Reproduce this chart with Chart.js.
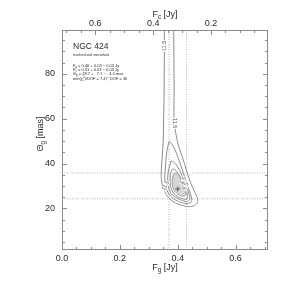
<!DOCTYPE html>
<html>
<head>
<meta charset="utf-8">
<script src="https://cdn.jsdelivr.net/npm/chart.js@4.4.1/dist/chart.umd.min.js"></script>
<style>
  html, body { margin: 0; padding: 0; background: #fff; }
  canvas { display: block; }
</style>
</head>
<body>
<canvas id="chart" width="299" height="294"></canvas>
<script>
// values
const bottomTicks = [0.0, 0.2, 0.4, 0.6]
const topTicks = [0.6, 0.4, 0.2]
const leftTicks = [20, 40, 60, 80]

const xMax = 0.712   // F_g axis end
const fTotal = 0.715 // F_c = fTotal - F_g
const yMin = 1.5
const yMax = 99.5

const bestFit = [[0.40, 28.7]]
const fgBounds = [0.37, 0.43]
const thetaBounds = [24.3, 35.8]

// chi2 contours [F_g, Theta_g], outermost (11.5) is open at the top
const level1 = [[0.386, 101], [0.3875, 72.8], [0.3875, 59.4], [0.3945, 52.7], [0.403, 47.8], [0.417, 42.5],
  [0.431, 36.7], [0.445, 31.3], [0.459, 27.3], [0.469, 24.2], [0.465, 22.0], [0.448, 20.9], [0.424, 21.1],
  [0.393, 22.4], [0.369, 24.7], [0.353, 28.2], [0.344, 32.2], [0.343, 36.2], [0.346, 42.5], [0.350, 50.5],
  [0.351, 59.4], [0.353, 72.8], [0.354, 101]]
const level2 = [[0.370, 49.8], [0.363, 46.0], [0.358, 39.4], [0.355, 33.6], [0.360, 29.1], [0.375, 25.5],
  [0.400, 23.3], [0.427, 22.2], [0.445, 22.7], [0.448, 24.7], [0.439, 28.2], [0.427, 32.7], [0.414, 38.0],
  [0.398, 43.8], [0.382, 48.3], [0.370, 49.8]]
const level3 = [[0.377, 41.1], [0.370, 38.0], [0.365, 33.6], [0.369, 29.1], [0.382, 26.0], [0.407, 24.0],
  [0.431, 23.1], [0.441, 24.0], [0.438, 26.9], [0.427, 30.5], [0.414, 34.9], [0.398, 38.9], [0.386, 40.7],
  [0.377, 41.1]]
const level4 = [[0.382, 37.6], [0.375, 35.4], [0.374, 31.8], [0.379, 28.2], [0.393, 25.8], [0.414, 24.4],
  [0.431, 24.2], [0.434, 25.8], [0.426, 29.1], [0.414, 32.7], [0.400, 35.8], [0.389, 37.4], [0.382, 37.6]]
const level5 = [[0.386, 35.4], [0.381, 32.7], [0.384, 29.1], [0.396, 26.9], [0.414, 25.5], [0.426, 25.8],
  [0.427, 27.8], [0.419, 30.9], [0.407, 34.0], [0.395, 35.8], [0.386, 35.4]]

const contourLabels = [
  { text: '11.5', x: 0.353, y: 92.4, rot: -90 },
  { text: '11.5', x: 0.3875, y: 58.0, rot: 90 },
  { text: '11.5', x: 0.358, y: 30.2, rot: -62 },
  { text: '8.5', x: 0.420, y: 32.4, rot: -68 },
  { text: '9.5', x: 0.428, y: 29.8, rot: -68 }
]

const infoLines = [
  [['F'], ['g', 'sub'], [' = 0.40 + 0.03 \u2212 0.03 Jy']],
  [['F'], ['c', 'sub'], [' = 0.31 + 0.03 \u2212 0.03 Jy']],
  [['\u0398'], ['g', 'sub'], [' = 28.7 +   7.1 \u2212   4.4 mas']],
  [['min(\u03c7'], ['2', 'sup'], [')/DOF = 7.47; DOF = 36']]
]

const FONT = '"Liberation Sans", Arial, Helvetica, sans-serif'
const frameGray = '#8a8a8a'
const lineGray = '#8e8e8e'
const dotGray = '#b0b0b0'
const textCol = '#2a2a2a'

const toPts = (arr) => arr.map((p) => ({x: p[0], y: p[1]}))

function contour (arr, extra) {
  return Object.assign({
    data: toPts(arr),
    showLine: true,
    borderColor: lineGray,
    borderWidth: 1,
    pointRadius: 0,
    tension: 0.35,
    fill: false
  }, extra)
}

function dotted (pts) {
  return { data: pts, showLine: true, borderColor: dotGray, borderWidth: 1, borderDash: [1, 1.5], pointRadius: 0, fill: false }
}

function drawRich (ctx, parts, x, y, size, align, color) {
  let w = 0
  parts.forEach((p) => {
    ctx.font = (p[1] ? size * 0.7 : size) + 'px ' + FONT
    w += ctx.measureText(p[0]).width
  })
  let cx = align === 'center' ? x - w / 2 : x
  ctx.fillStyle = color
  ctx.textAlign = 'left'
  ctx.textBaseline = 'middle'
  parts.forEach((p) => {
    const s = p[1] ? size * 0.7 : size
    ctx.font = s + 'px ' + FONT
    const dy = p[1] === 'sub' ? size * 0.3 : (p[1] === 'sup' ? -size * 0.35 : 0)
    ctx.fillText(p[0], cx, y + dy)
    cx += ctx.measureText(p[0]).width
  })
}

const idlPlugin = {
  id: 'idlPlot',
  afterDatasetsDraw (chart) {
    const ctx = chart.ctx
    const sx = chart.scales.x
    const sy = chart.scales.y
    ctx.save()
    contourLabels.forEach((l) => {
      const px = sx.getPixelForValue(l.x)
      const py = sy.getPixelForValue(l.y)
      ctx.translate(px, py)
      ctx.rotate(l.rot * Math.PI / 180)
      ctx.font = '5.5px ' + FONT
      const w = ctx.measureText(l.text).width
      ctx.fillStyle = '#fff'
      ctx.fillRect(-w / 2 - 0.5, -2.5, w + 1, 5)
      ctx.fillStyle = '#555'
      ctx.textAlign = 'center'
      ctx.textBaseline = 'middle'
      ctx.fillText(l.text, 0, 0)
      ctx.setTransform(1, 0, 0, 1, 0, 0)
    })
    ctx.restore()
  },
  afterDraw (chart) {
    const ctx = chart.ctx
    const a = chart.chartArea
    const {x, x2, y} = chart.scales
    ctx.save()
    ctx.strokeStyle = frameGray
    ctx.lineWidth = 1
    ctx.strokeRect(a.left + 0.5, a.top + 0.5, a.right - a.left - 1, a.bottom - a.top - 1)

    ctx.beginPath()
    // bottom & top ticks
    for (let v = 0; v <= xMax + 1e-9; v += 0.05) {
      const major = Math.abs(v / 0.2 - Math.round(v / 0.2)) < 1e-6
      const px = Math.round(x.getPixelForValue(v)) + 0.5
      ctx.moveTo(px, a.bottom); ctx.lineTo(px, a.bottom - (major ? 5 : 3))
    }
    for (let v = 0.05; v <= fTotal; v += 0.05) {
      const major = Math.abs(v / 0.2 - Math.round(v / 0.2)) < 1e-6
      const px = Math.round(x2.getPixelForValue(v)) + 0.5
      if (px < a.left || px > a.right) continue
      ctx.moveTo(px, a.top); ctx.lineTo(px, a.top + (major ? 5 : 3))
    }
    // left & right ticks
    for (let v = 5; v <= yMax; v += 5) {
      const major = v % 20 === 0
      const py = Math.round(y.getPixelForValue(v)) + 0.5
      ctx.moveTo(a.left, py); ctx.lineTo(a.left + (major ? 5 : 3), py)
      ctx.moveTo(a.right, py); ctx.lineTo(a.right - (major ? 5 : 3), py)
    }
    ctx.stroke()

    // axis titles
    const cx = (a.left + a.right) / 2
    drawRich(ctx, [['F'], ['g', 'sub'], [' [Jy]']], cx, 268, 9, 'center', textCol)
    drawRich(ctx, [['F'], ['c', 'sub'], [' [Jy]']], cx, 15, 9, 'center', textCol)
    ctx.save()
    ctx.translate(41, 134)
    ctx.rotate(-Math.PI / 2)
    drawRich(ctx, [['\u0398'], ['g', 'sub'], [' [mas]']], 0, 0, 9, 'center', textCol)
    ctx.restore()

    // annotation block
    const tx = a.left + 11
    drawRich(ctx, [['NGC 424']], tx, 47, 8.5, 'left', textCol)
    drawRich(ctx, [['resolved and unresolved']], tx, 55.5, 3.3, 'left', textCol)
    infoLines.forEach((parts, i) => {
      drawRich(ctx, parts, tx, 65.8 + i * 4.2, 4, 'left', textCol)
    })
    ctx.restore()
  }
}

const tickFont = { family: FONT, size: 9 }

new Chart('chart', {
  type: 'scatter',
  data: {
    datasets: [
      { data: toPts(bestFit), pointStyle: 'cross', pointRadius: 2.5, borderColor: '#555', borderWidth: 1, showLine: false },
      contour(level5, { fill: 'shape', backgroundColor: '#d6d6d6', borderColor: '#a0a0a0' }),
      contour(level4),
      contour(level3),
      contour(level2),
      contour(level1),
      dotted(fgBounds.map((v) => [{x: v, y: yMin}, {x: v, y: yMax}])[0]),
      dotted(fgBounds.map((v) => [{x: v, y: yMin}, {x: v, y: yMax}])[1]),
      dotted(thetaBounds.map((v) => [{x: 0, y: v}, {x: xMax, y: v}])[0]),
      dotted(thetaBounds.map((v) => [{x: 0, y: v}, {x: xMax, y: v}])[1])
    ]
  },
  options: {
    responsive: false,
    animation: false,
    devicePixelRatio: 1,
    layout: { padding: 0 },
    plugins: { legend: { display: false }, tooltip: { enabled: false } },
    scales: {
      x: {
        type: 'linear', position: 'bottom', min: 0, max: xMax,
        afterBuildTicks: (s) => { s.ticks = bottomTicks.map((v) => ({value: v})) },
        afterFit: (s) => { s.height = 44 },
        grid: { display: false, drawTicks: false },
        border: { display: false },
        ticks: { font: tickFont, color: textCol, padding: 3, maxRotation: 0, autoSkip: false, callback: (v) => v.toFixed(1) }
      },
      x2: {
        type: 'linear', position: 'top', min: fTotal - xMax, max: fTotal, reverse: true,
        afterBuildTicks: (s) => { s.ticks = topTicks.map((v) => ({value: v})) },
        afterFit: (s) => { s.height = 30 },
        grid: { display: false, drawTicks: false },
        border: { display: false },
        ticks: { font: tickFont, color: textCol, padding: 1.5, maxRotation: 0, autoSkip: false, callback: (v) => v.toFixed(1) }
      },
      y: {
        type: 'linear', position: 'left', min: yMin, max: yMax,
        afterBuildTicks: (s) => { s.ticks = leftTicks.map((v) => ({value: v})) },
        afterFit: (s) => { s.width = 62 },
        grid: { display: false, drawTicks: false },
        border: { display: false },
        ticks: { font: tickFont, color: textCol, padding: 7, autoSkip: false }
      },
      y2: {
        type: 'linear', position: 'right', min: yMin, max: yMax,
        afterFit: (s) => { s.width = 31 },
        grid: { display: false, drawTicks: false },
        border: { display: false },
        ticks: { display: false }
      }
    }
  },
  plugins: [idlPlugin]
})
</script>
</body>
</html>
